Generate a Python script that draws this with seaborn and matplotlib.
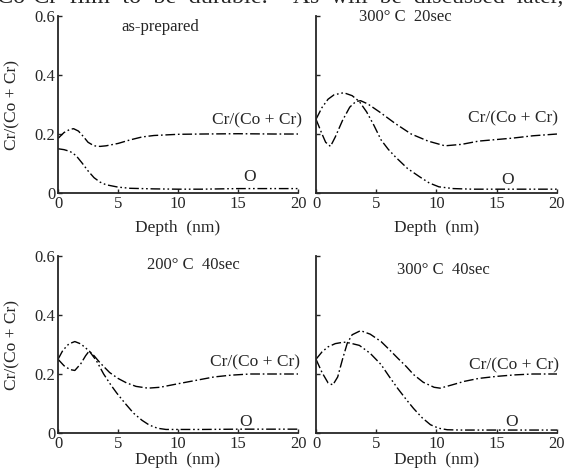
import matplotlib
matplotlib.use("Agg")
import matplotlib.pyplot as plt
import seaborn as sns

# ---------------------------------------------------------------
# DATA: Cr/(Co+Cr) and O depth profiles
# ---------------------------------------------------------------

# as-prepared
asprep_cr_depth = [0, 0.5, 1.0, 1.3, 1.7, 2.1, 2.5, 3.0, 3.5, 4.0, 5.0, 6.0, 7.0, 8.0, 10, 12, 15, 18, 20]
asprep_cr = [0.185, 0.205, 0.216, 0.218, 0.21, 0.192, 0.172, 0.16, 0.158, 0.16, 0.168, 0.18, 0.19,
             0.195, 0.199, 0.2, 0.201, 0.2, 0.2]
asprep_o_depth = [0, 0.5, 1.0, 1.5, 2.0, 2.5, 3.0, 3.5, 4.0, 5.0, 6.0, 8.0, 10, 12, 15, 18, 20]
asprep_o = [0.15, 0.147, 0.141, 0.127, 0.102, 0.075, 0.052, 0.037, 0.028, 0.02, 0.016, 0.014,
            0.013, 0.013, 0.015, 0.015, 0.015]

# 300 C 20 sec
t300s20_cr_depth = [0, 0.5, 0.8, 1.2, 1.6, 2.2, 2.8, 3.3, 3.7, 4.3, 5.3, 6.6, 7.9, 9.3, 10.7,
                    12.1, 13.5, 16.3, 18, 20]
t300s20_cr = [0.25, 0.2, 0.172, 0.158, 0.19, 0.246, 0.291, 0.31, 0.313, 0.302, 0.274, 0.235, 0.2,
              0.176, 0.16, 0.165, 0.176, 0.186, 0.194, 0.2]
t300s20_o_depth = [0, 0.5, 1.0, 1.5, 2.3, 3.0, 3.6, 4.2, 4.8, 5.4, 6.0, 6.6, 7.6, 8.6, 9.4, 10.2,
                   11.4, 13, 15, 18, 20]
t300s20_o = [0.25, 0.29, 0.318, 0.333, 0.34, 0.33, 0.31, 0.275, 0.23, 0.18, 0.148, 0.122, 0.083,
             0.055, 0.034, 0.021, 0.015, 0.013, 0.013, 0.013, 0.013]

# 200 C 40 sec
t200s40_cr_depth = [0, 0.5, 1.0, 1.4, 1.9, 2.3, 2.6, 3.0, 3.5, 4.3, 5.0, 5.7, 6.5, 7.5, 8.5, 10,
                    11.7, 13, 14.4, 16, 18, 20]
t200s40_cr = [0.25, 0.228, 0.215, 0.212, 0.235, 0.262, 0.278, 0.262, 0.238, 0.205, 0.185, 0.17,
              0.158, 0.152, 0.155, 0.167, 0.18, 0.19, 0.196, 0.2, 0.2, 0.2]
t200s40_o_depth = [0, 0.4, 0.9, 1.4, 1.9, 2.6, 3.2, 3.8, 4.4, 4.9, 5.6, 6.3, 7.0, 7.6, 8.3, 9.0,
                   10, 12, 15, 18, 20]
t200s40_o = [0.25, 0.28, 0.302, 0.31, 0.302, 0.278, 0.245, 0.2, 0.163, 0.135, 0.1, 0.067, 0.043,
             0.027, 0.016, 0.012, 0.012, 0.012, 0.013, 0.013, 0.013]

# 300 C 40 sec
t300s40_cr_depth = [0, 0.5, 1.0, 1.4, 1.8, 2.2, 2.6, 3.0, 3.7, 4.5, 5.4, 6.1, 6.8, 7.5, 8.1, 8.9,
                    9.8, 10.3, 11.2, 12.3, 13.5, 15, 16.5, 18, 20]
t300s40_cr = [0.25, 0.205, 0.17, 0.163, 0.19, 0.25, 0.305, 0.333, 0.347, 0.335, 0.31, 0.282,
              0.253, 0.225, 0.198, 0.172, 0.155, 0.152, 0.162, 0.175, 0.185, 0.192, 0.197, 0.2, 0.2]
t300s40_o_depth = [0, 0.5, 1.0, 1.6, 2.3, 2.8, 3.6, 4.5, 5.4, 6.1, 6.8, 7.5, 8.1, 8.8, 9.5, 10.2,
                   10.9, 12, 15, 18, 20]
t300s40_o = [0.25, 0.275, 0.292, 0.303, 0.308, 0.305, 0.297, 0.27, 0.232, 0.19, 0.15, 0.113,
             0.083, 0.052, 0.028, 0.016, 0.011, 0.01, 0.01, 0.01, 0.01]

panel_titles = ["as-prepared", "300\u00b0 C  20sec", "200\u00b0 C  40sec", "300\u00b0 C  40sec"]
depth_ticks = [0, 5, 10, 15, 20]
ratio_ticks = [0, 0.2, 0.4, 0.6]
ratio_ticklabels = ["0", "0.2", "0.4", "0.6"]

# ---------------------------------------------------------------
# STYLE
# ---------------------------------------------------------------

sns.set_style("ticks")
plt.rcParams["font.family"] = ["Liberation Serif", "DejaVu Serif"]
plt.rcParams["font.size"] = 12

CR_STYLE = (0, (7, 2, 1.2, 2))
O_STYLE = (0, (7, 2, 1.2, 2, 1.2, 2))


def draw_panel(ax, cr_depth, cr, o_depth, o, title, title_xy, cr_xy, o_xy, left_labels, xlabel_pad):
    sns.lineplot(x=cr_depth, y=cr, ax=ax, color="black", linewidth=1.0,
                 linestyle=CR_STYLE, errorbar=None, sort=False)
    sns.lineplot(x=o_depth, y=o, ax=ax, color="black", linewidth=1.0,
                 linestyle=O_STYLE, errorbar=None, sort=False)

    ax.set_xlim(0, 20)
    ax.set_ylim(0, 0.6)
    ax.set_xticks(depth_ticks)
    ax.set_yticks(ratio_ticks)
    if left_labels:
        ax.set_yticklabels(ratio_ticklabels)
        ax.set_ylabel("Cr/(Co + Cr)", fontsize=12.5)
        ax.yaxis.set_label_coords(-0.155, 0.5)
    else:
        ax.set_yticklabels([])
    ax.set_xlabel("Depth  (nm)", fontsize=12.5, labelpad=xlabel_pad)

    sns.despine(ax=ax)
    for side in ["left", "bottom"]:
        ax.spines[side].set_linewidth(1.3)
    ax.tick_params(direction="in", length=3, width=1.0, pad=2, labelsize=12)

    ax.text(title_xy[0], title_xy[1], title, ha="center", va="center", fontsize=12, clip_on=False)
    ax.text(cr_xy[0], cr_xy[1], "Cr/(Co + Cr)", ha="left", va="center", fontsize=12.5)
    ax.text(o_xy[0], o_xy[1], "O", ha="center", va="center", fontsize=12.5)


fig = plt.figure(figsize=(5.65, 4.74), dpi=100)

ax_tl = fig.add_axes([0.1027, 0.5928, 0.4248, 0.3734])
ax_tr = fig.add_axes([0.5593, 0.5928, 0.4265, 0.3734])
ax_bl = fig.add_axes([0.1027, 0.0865, 0.4248, 0.3734])
ax_br = fig.add_axes([0.5593, 0.0865, 0.4265, 0.3734])

draw_panel(ax_tl, asprep_cr_depth, asprep_cr, asprep_o_depth, asprep_o, panel_titles[0],
           (8.5, 0.563), (12.8, 0.247), (16.0, 0.054), True, 6)
draw_panel(ax_tr, t300s20_cr_depth, t300s20_cr, t300s20_o_depth, t300s20_o, panel_titles[1],
           (7.4, 0.598), (12.6, 0.254), (15.9, 0.044), False, 6)
draw_panel(ax_bl, t200s40_cr_depth, t200s40_cr, t200s40_o_depth, t200s40_o, panel_titles[2],
           (11.25, 0.57), (12.7, 0.241), (15.6, 0.037), True, 0)
draw_panel(ax_br, t300s40_cr_depth, t300s40_cr, t300s40_o_depth, t300s40_o, panel_titles[3],
           (10.6, 0.553), (12.7, 0.228), (16.2, 0.037), False, 0)

# running text of the page above the figure (cut off by the scan, as in the source)
fig.text(-0.005, 0.993, "Co-Cr  film  to  be  durable.", fontsize=17.5, va="baseline", ha="left")
fig.text(0.519, 0.993, "As  will  be  discussed  later,", fontsize=17, va="baseline", ha="left")

fig.savefig("out.png", dpi=100)
